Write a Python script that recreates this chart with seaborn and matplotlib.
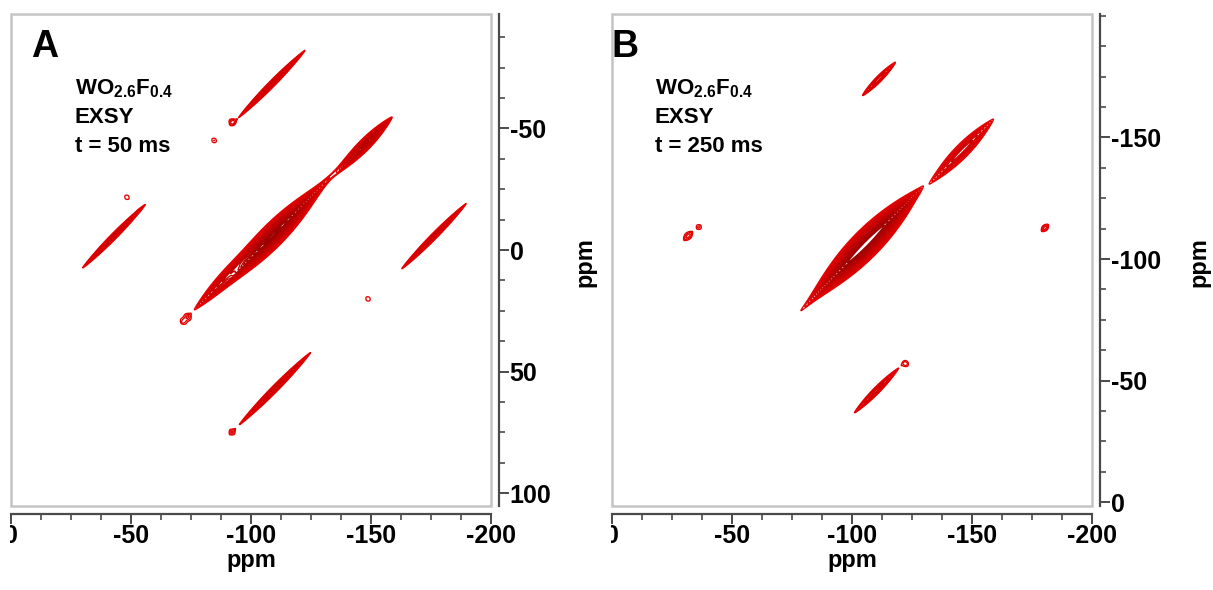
import numpy as np
import matplotlib
matplotlib.use("Agg")
import matplotlib.pyplot as plt
from matplotlib.patches import Rectangle
from matplotlib.ticker import MultipleLocator, FormatStrFormatter
import seaborn as sns

# ---------------- data (ppm) ----------------
# Panel A : WO2.6F0.4 EXSY, t = 50 ms
a_peak_x = [-109.0, -92.0, -147.5, -130.0, -108.75, -110.0, -42.9, -176.25,
            -84.6, -92.1, -48.3, -148.75, -92.1, -71.7, -73.75]
a_peak_y = [-6.0, 9.0, -43.4, -27.0, -68.4, 57.0, -5.7, -5.7,
            -45.1, -52.7, -21.7, 20.1, 74.9, 29.5, 27.5]
a_half_len = [30.0, 22.0, 16.0, 12.0, 19.5, 21.0, 18.5, 19.0,
              0.9, 1.3, 0.9, 0.9, 1.0, 0.9, 1.0]
a_half_wid = [4.6, 2.6, 2.1, 0.4, 1.05, 1.1, 1.0, 1.0,
              0.8, 1.1, 0.8, 0.8, 0.9, 0.8, 0.9]
a_amp = [130.0, 12.0, 25.0, 1.4, 6.0, 6.0, 6.0, 6.0,
         1.3, 1.8, 1.3, 1.3, 1.4, 1.3, 1.4]

# Panel B : WO2.6F0.4 EXSY, t = 250 ms
b_peak_x = [-105.8, -145.8, -111.25, -110.2, -122.5, -31.7, -36.25, -180.4, -91.0]
b_peak_y = [-106.2, -144.4, -174.1, -45.9, -56.8, -109.5, -113.2, -112.8, -91.0]
b_half_len = [33.0, 18.6, 9.7, 13.0, 1.0, 2.5, 1.0, 2.0, 15.0]
b_half_wid = [5.6, 2.6, 1.0, 1.1, 0.8, 1.2, 0.8, 1.0, 0.5]
b_amp = [200.0, 8.0, 3.5, 4.5, 1.4, 2.0, 1.4, 2.0, 1.5]

x_ticks = [0, -50, -100, -150, -200]
a_y_ticks = [-50, 0, 50, 100]
b_y_ticks = [-150, -100, -50, 0]
a_ylim = (105.3, -97.1)
b_ylim = (1.6, -200.8)
x_lim = (0, -200)

sample = r"$\mathbf{WO_{2.6}F_{0.4}}$"
a_lines = [sample, "EXSY", "t = 50 ms"]
b_lines = [sample, "EXSY", "t = 250 ms"]

# ---------------- style ----------------
sns.set_theme(style="ticks")
plt.rcParams["font.family"] = ["Liberation Sans", "DejaVu Sans"]
plt.rcParams["font.weight"] = "bold"
plt.rcParams["text.color"] = "black"
plt.rcParams["axes.labelcolor"] = "black"
plt.rcParams["axes.unicode_minus"] = False
plt.rcParams["mathtext.fontset"] = "custom"
plt.rcParams["mathtext.bf"] = "Liberation Sans:bold"
plt.rcParams["mathtext.rm"] = "Liberation Sans:bold"

RED_LEVELS = 1.3 ** np.arange(0, 19)
line_colors = sns.blend_palette(["#e80000", "#9c0000"], len(RED_LEVELS))


def spectrum(X, Y, xs, ys, hl, hw, amp):
    Z = np.zeros_like(X)
    eps = 0.25
    for x0, y0, L, Wd, A in zip(xs, ys, hl, hw, amp):
        lnA = np.log(A)
        a = L / np.sqrt(lnA)
        b = Wd / lnA
        u = ((X - x0) + (Y - y0)) / np.sqrt(2)
        v = ((X - x0) - (Y - y0)) / np.sqrt(2)
        Z += A * np.exp(-(u / a) ** 2 - (np.sqrt(v ** 2 + eps ** 2) - eps) / b)
    return Z


W, H = 1213, 590
fig = plt.figure(figsize=(W / 100, H / 100), dpi=100)
fig.patch.set_facecolor("white")


def px_rect(x0, x1, top, bottom):
    return [x0 / W, (H - bottom) / H, (x1 - x0) / W, (bottom - top) / H]


panels = [
    dict(rect=px_rect(11, 491, 14, 506), xs=a_peak_x, ys=a_peak_y, hl=a_half_len,
         hw=a_half_wid, amp=a_amp, ylim=a_ylim, yt=a_y_ticks, letter="A",
         lines=a_lines, letter_x=0.042, text_x=0.133, ylab_x=1.172),
    dict(rect=px_rect(612, 1092, 14, 506), xs=b_peak_x, ys=b_peak_y, hl=b_half_len,
         hw=b_half_wid, amp=b_amp, ylim=b_ylim, yt=b_y_ticks, letter="B",
         lines=b_lines, letter_x=-0.002, text_x=0.089, ylab_x=1.198),
]

for p in panels:
    ax = fig.add_axes(p["rect"])
    ax.set_facecolor("white")
    gx = np.linspace(-202, 2, 1221)
    lo, hi = min(p["ylim"]) - 2, max(p["ylim"]) + 2
    gy = np.linspace(lo, hi, 1221)
    X, Y = np.meshgrid(gx, gy)
    Z = spectrum(X, Y, p["xs"], p["ys"], p["hl"], p["hw"], p["amp"])
    ax.contour(X, Y, Z, levels=RED_LEVELS, colors=line_colors, linewidths=0.95)

    ax.set_xlim(*x_lim)
    ax.set_ylim(*p["ylim"])
    ax.set_xticks(x_ticks)
    ax.set_yticks(p["yt"])
    ax.xaxis.set_minor_locator(MultipleLocator(12.5))
    ax.yaxis.set_minor_locator(MultipleLocator(12.5))
    ax.xaxis.set_major_formatter(FormatStrFormatter("%d"))
    ax.yaxis.set_major_formatter(FormatStrFormatter("%d"))

    sns.despine(ax=ax, top=True, left=True, right=False, bottom=False, offset=5.5)
    for s in ("bottom", "right"):
        ax.spines[s].set_color("#4a4a4a")
        ax.spines[s].set_linewidth(1.6)
    ax.yaxis.tick_right()
    ax.yaxis.set_label_position("right")
    ax.tick_params(which="major", length=7, width=1.4, color="#4a4a4a",
                   labelsize=18, direction="out")
    ax.tick_params(axis="x", which="major", pad=0.5)
    ax.tick_params(axis="y", which="major", pad=1.0)
    ax.tick_params(which="minor", length=4.5, width=1.2, color="#4a4a4a",
                   direction="out")
    ax.tick_params(axis="both", labelcolor="black")
    for lbl in ax.get_xticklabels() + ax.get_yticklabels():
        lbl.set_fontweight("bold")

    ax.add_patch(Rectangle((0, 0), 1, 1, transform=ax.transAxes, fill=False,
                           edgecolor="#c4c4c4", linewidth=1.8, clip_on=False,
                           zorder=5))

    ax.set_xlabel("ppm", fontsize=17, fontweight="bold", labelpad=0)
    ax.set_ylabel("ppm", fontsize=17, fontweight="bold", rotation=90)
    ax.xaxis.set_label_coords(0.5, -0.088)
    ax.yaxis.set_label_coords(p["ylab_x"], 0.496)

    ax.text(p["letter_x"], 0.9126, p["letter"], transform=ax.transAxes,
            fontsize=27, fontweight="bold", va="baseline", ha="left")
    for yy, t in zip([0.8368, 0.7778, 0.7201], p["lines"]):
        ax.text(p["text_x"], yy, t, transform=ax.transAxes, fontsize=16,
                fontweight="bold", va="baseline", ha="left")

# the "0" at the left end of each x axis is cut in half in the original crop
for x0, w in ((0, 10), (598, 13)):
    fig.add_artist(Rectangle((x0 / W, (H - 546) / H), w / W, 26 / H,
                             transform=fig.transFigure, facecolor="white",
                             edgecolor="none", zorder=20))

fig.savefig("out.png", dpi=100, facecolor="white")
